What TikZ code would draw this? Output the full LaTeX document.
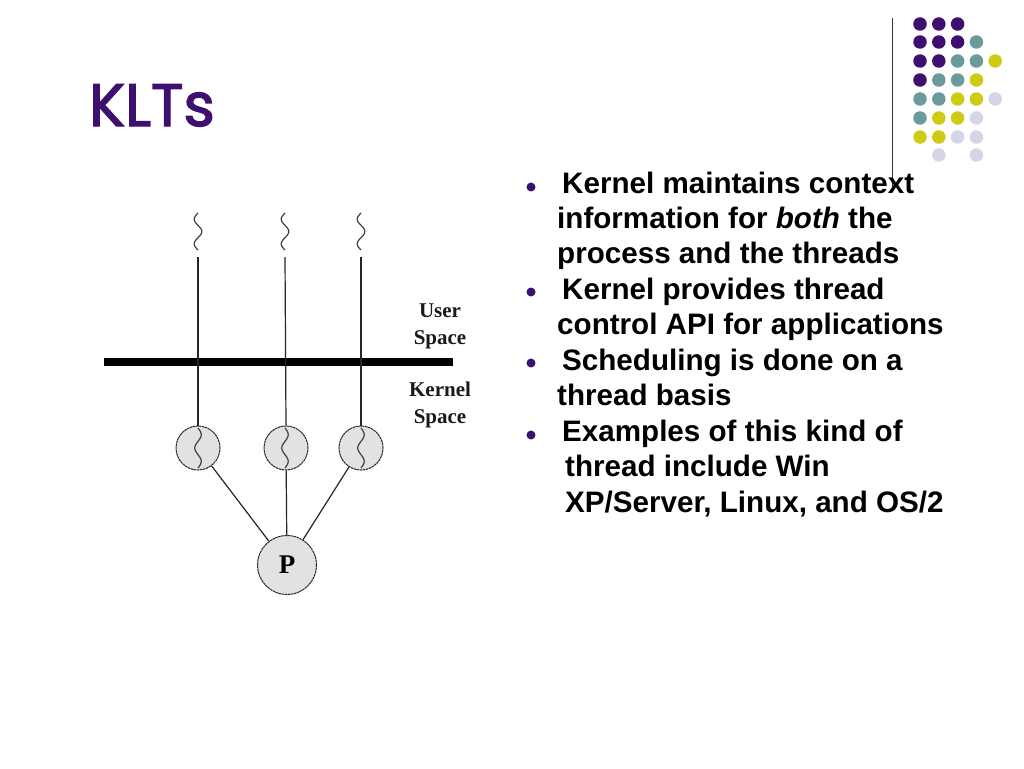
\documentclass[tikz,border=0pt]{standalone}
\usepackage{fontspec}
\setmainfont{Liberation Sans}
\newfontfamily\titlefont[FakeBold=2.2]{Poppins}
\newfontfamily\timesfont{Liberation Serif}
\definecolor{kpurple}{HTML}{3F0F70}
\definecolor{kteal}{HTML}{6A9A9C}
\definecolor{kyellow}{HTML}{CDCB14}
\definecolor{klav}{HTML}{D5D5E8}
\definecolor{kfill}{HTML}{E2E2E2}
\tikzset{
  dot/.style={circle, inner sep=0pt, minimum size=13.5pt},
  bodytext/.style={anchor=base west, inner sep=0pt, font=\bfseries\fontsize{29.6}{35}\selectfont},
  bulletdot/.style={circle, fill=kpurple, inner sep=0pt, minimum size=9pt},
  thr/.style={circle, draw=black!85, line width=1pt, dash pattern=on 2.5pt off 0.6pt, fill=kfill, minimum size=44pt, inner sep=0pt},
  proc/.style={circle, draw=black!85, line width=1pt, dash pattern=on 2.5pt off 0.6pt, fill=kfill, minimum size=59pt, inner sep=0pt, font=\timesfont\bfseries\fontsize{27}{27}\selectfont},
  wire/.style={black!85, line width=1.2pt},
  squig/.style={black!75, line width=1.2pt},
  spacelbl/.style={align=center, inner sep=0pt, font=\timesfont\bfseries\fontsize{21}{27}\selectfont, text=black!90}
}
\begin{document}
\begin{tikzpicture}[x=1pt,y=-1pt]
\useasboundingbox[fill=white] (0,0) rectangle (1024,768);

% title
\node[anchor=base west, inner sep=0pt, text=kpurple, font=\titlefont\fontsize{60}{62}\selectfont] (title) at (89,126) {KLTs};

% decorative dots
\def\tmpnone{none}
\foreach \row/\y/\cols in {
  1/24/{kpurple,kpurple,kpurple,none,none},
  2/42/{kpurple,kpurple,kpurple,kteal,none},
  3/61/{kpurple,kpurple,kteal,kteal,kyellow},
  4/80/{kpurple,kteal,kteal,kyellow,none},
  5/99/{kteal,kteal,kyellow,kyellow,klav},
  6/118/{kteal,kyellow,kyellow,klav,none},
  7/137/{kyellow,kyellow,klav,klav,none},
  8/155/{none,klav,none,klav,none}} {
  \foreach \c [count=\i] in \cols {
    \pgfmathsetmacro{\xx}{920+18.8*(\i-1)}
    \ifx\c\tmpnone\else
      \node[dot, fill=\c] (d\row-\i) at (\xx,\y) {};
    \fi
  }
}
\coordinate (vt) at (892,18);
\coordinate (vb) at (892,187);
\draw[black!80, line width=1pt] (vt) -- (vb);

% diagram
\coordinate (barL) at (104,362);
\coordinate (barR) at (453,362);
\draw[black, line width=8pt] (barL) -- (barR);

\node[thr] (t1) at (198,448) {};
\node[thr] (t2) at (286,448) {};
\node[thr] (t3) at (361,448) {};
\node[proc] (P) at (287,565) {P};

\foreach \n/\cx in {1/198,2/285,3/361} {
  % user-level thread squiggle
  \draw[squig] plot[domain=0:540, samples=40, smooth] ({\cx-3.8*sin(\x)}, {213+\x/540*37});
  \coordinate (u\n) at (\cx,257);
  \draw[wire] (u\n) -- (t\n.north);
  % kernel thread squiggle inside circle
  \draw[squig] plot[domain=0:540, samples=40, smooth] ({\cx+3.2*sin(\x)}, {428+\x/540*40});
  \draw[wire] (t\n) -- (P);
}

\node[spacelbl] (user) at (440,326) {User\\Space};
\node[spacelbl] (kern) at (440,405) {Kernel\\Space};

% bullets
\node[bulletdot] (b1) at (531,187) {};
\node[bulletdot] (b2) at (531,292) {};
\node[bulletdot] (b3) at (531,363) {};
\node[bulletdot] (b4) at (531,435) {};

\node[bodytext] (l1) at (562,193) {Kernel maintains context};
\node[bodytext] (l2) at (557,228) {information for \textit{both} the};
\node[bodytext] (l3) at (557,263) {process and the threads};
\node[bodytext] (l4) at (562,299) {Kernel provides thread};
\node[bodytext] (l5) at (557,334) {control API for applications};
\node[bodytext] (l6) at (562,370) {Scheduling is done on a};
\node[bodytext] (l7) at (557,405) {thread basis};
\node[bodytext] (l8) at (562,441) {Examples of this kind of};
\node[bodytext] (l9) at (565,476) {thread include Win};
\node[bodytext] (l10) at (565,512) {XP/Server, Linux, and OS/2};
\end{tikzpicture}
\end{document}
